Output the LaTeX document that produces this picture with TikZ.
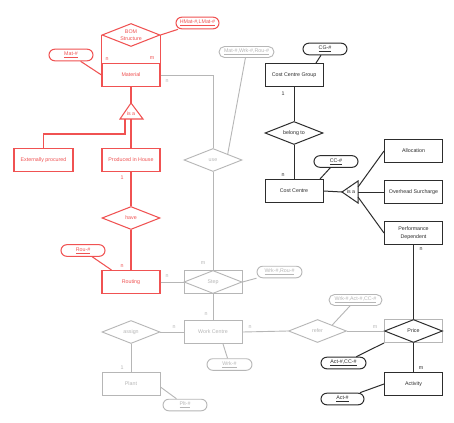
\documentclass[tikz,border=0pt]{standalone}
\usepackage{fontspec}
\setmainfont{Liberation Sans}
\usetikzlibrary{shapes.geometric}
\definecolor{er}{RGB}{240,82,82}
\definecolor{eg}{RGB}{182,182,182}
\definecolor{ek}{RGB}{45,45,45}
\tikzset{
  base/.style={font=\fontsize{5.3}{6.3}\selectfont, inner sep=0pt},
  ent/.style={base, draw, rectangle, minimum width=58pt, minimum height=23pt},
  rel/.style={base, draw, diamond, minimum width=58pt, minimum height=23pt},
  keyn/.style={base, draw, rounded corners=5.8pt, minimum width=44pt, minimum height=11.6pt},
  lbl/.style={base},
  cr/.style={draw=er, text=er, line width=1.05pt},
  cg/.style={draw=eg, text=eg, line width=0.9pt},
  ck/.style={draw=ek, text=ek, line width=1pt},
  lr/.style={draw=er, line width=1.05pt},
  lg/.style={draw=eg, line width=0.9pt},
  lk/.style={draw=ek, line width=1pt},
}
\begin{document}
\begin{tikzpicture}[x=1pt,y=-1pt]
\useasboundingbox[fill=white] (0,0) rectangle (454,422);

% ---------- red part ----------
\node[ent,cr] (mat) at (131,75) {Material};
\node[rel,cr] (bom) at (131,35) {};
\node[lbl,text=er,align=center] (bomt) at (131,35) {BOM\\[0.5pt]Structure};
\node[keyn,cr,minimum width=43pt] (hmat) at (197.5,23) {\underline{HMat-\#,LMat-\#}};
\node[keyn,cr] (matk) at (71,55) {\underline{Mat-\#}};
\node[ent,cr,minimum width=59pt] (ext) at (43.5,160) {Externally procured};
\node[ent,cr] (prod) at (131,160) {Produced in House};
\node[rel,cr] (have) at (131,218) {};
\node[lbl,text=er] (havet) at (131,218) {have};
\node[ent,cr] (rout) at (131,282) {Routing};
\node[keyn,cr] (rouk) at (83,250.5) {\underline{Rou-\#}};

\draw[lr] (bom.west) -- (bom.west |- mat.north);
\draw[lr] (bom.east) -- (bom.east |- mat.north);
\draw[lr] (bom.east) -- (hmat);
\draw[lr] (matk) -- (mat.west);
% is-a triangle
\coordinate (t1a) at (131,103);
\coordinate (t1l) at (120,119);
\coordinate (t1r) at (143,119);
\draw[lr, line join=miter] (t1a) -- (t1l) -- (t1r) -- cycle;
\node[lbl,text=er] (isa1) at (131,113.5) {is a};
\coordinate (t1p) at (125,119);
\coordinate (t1q) at (131,119);
\draw[lr] (mat.south) -- (t1a);
\draw[lr] (t1p) -- (125,134) -| (ext.north);
\draw[lr] (t1q) -- (prod.north);
\draw[lr] (prod.south) -- (have.north);
\draw[lr] (have.south) -- (rout.north);
\draw[lr] (rouk) -- ([xshift=10pt]rout.north west);
\node[lbl,text=er] at (107,59) {n};
\node[lbl,text=er] at (152,58.5) {m};
\node[lbl,text=er] at (122,178) {1};
\node[lbl,text=er] at (122,266) {n};

% ---------- gray part ----------
\node[rel,cg] (use) at (213,160) {};
\node[lbl,text=eg] (uset) at (213,160) {use};
\node[ent,cg] (stpb) at (213,282) {};
\node[rel,cg] (stp) at (213,282) {};
\node[lbl,text=eg] (stpt) at (213,282) {Step};
\node[ent,cg] (wc) at (213,332) {Work Centre};
\node[rel,cg] (assign) at (131,332) {};
\node[lbl,text=eg] (assignt) at (131,332) {assign};
\node[ent,cg] (plant) at (131,384) {Plant};
\node[rel,cg] (refer) at (317.5,331) {};
\node[lbl,text=eg] (refert) at (317.5,331) {refer};
\node[keyn,cg,minimum width=55pt,minimum height=11pt,rounded corners=5.5pt] (mwr) at (246.5,52) {\underline{Mat-\#,Wrk-\#,Rou-\#}};
\node[keyn,cg,minimum width=45pt] (wr) at (279.5,272) {\underline{Wrk-\#,Rou-\#}};
\node[keyn,cg,minimum width=45pt] (wk) at (229.5,364.5) {\underline{Wrk-\#}};
\node[keyn,cg] (pk) at (185,405) {\underline{Plt-\#}};
\node[keyn,cg,minimum width=53pt,minimum height=11pt,rounded corners=5.5pt] (wac) at (355.5,300) {\underline{Wrk-\#,Act-\#,CC-\#}};

\draw[lg] (mat.east) -| (use.north);
\draw[lg] (mwr) -- (use.north east);
\draw[lg] (use.south) -- (stpb.north);
\draw[lg] (rout.east) -- (stpb.west);
\draw[lg] (stp.east) -- (wr);
\draw[lg] (stpb.south) -- (wc.north);
\draw[lg] (assign.east) -- (wc.west);
\draw[lg] (assign.south) -- (plant.north);
\draw[lg] (pk) -- ([yshift=-3pt]plant.east);
\draw[lg] (wk) -- ([xshift=10pt]wc.south);
\draw[lg] (wc.east) -- (refer.west);
\draw[lg] (wac) -- (refer.north east);
\node[lbl,text=eg] at (167,81) {n};
\node[lbl,text=eg] at (167,276.5) {n};
\node[lbl,text=eg] at (203,263) {m};
\node[lbl,text=eg] at (206,314.5) {n};
\node[lbl,text=eg] at (174,327) {n};
\node[lbl,text=eg] at (122,368) {1};
\node[lbl,text=eg] at (250,327) {n};
\node[lbl,text=eg] at (375,327) {m};

% ---------- black part ----------
\node[ent,ck] (ccg) at (294,75) {Cost Centre Group};
\node[keyn,ck] (cgk) at (325,49) {\underline{CG-\#}};
\node[rel,ck] (belong) at (294,133) {};
\node[lbl,text=ek] (belongt) at (294,133) {belong to};
\node[ent,ck] (cc) at (294,191) {Cost Centre};
\node[keyn,ck] (cck) at (336,161.5) {\underline{CC-\#}};
\node[ent,ck] (alloc) at (413.5,151) {Allocation};
\node[ent,ck] (ovh) at (413.5,192) {Overhead Surcharge};
\node[ent,ck,align=center] (perf) at (413.5,233) {Performance\\[1pt]Dependent};
\node[ent,cg] (priceb) at (413.5,331) {};
\node[rel,ck] (price) at (413.5,331) {};
\node[lbl,text=ek] (pricet) at (413.5,331) {Price};
\node[ent,ck] (act) at (413.5,384) {Activity};
\node[keyn,ck,minimum width=45pt] (acck) at (343.5,363) {\underline{Act-\#,CC-\#}};
\node[keyn,ck,minimum width=43pt] (ak) at (342.5,399) {\underline{Act-\#}};

\draw[lk] (cgk) -- ([xshift=22pt]ccg.north);
\draw[lk] (ccg.south) -- (belong.north);
\draw[lk] (belong.south) -- (cc.north);
\draw[lk] (cck) -- ([xshift=26pt]cc.north);
\coordinate (t2a) at (342,192);
\coordinate (t2t) at (358,181);
\coordinate (t2b) at (358,203);
\draw[lk, line join=miter] (t2a) -- (t2t) -- (t2b) -- cycle;
\node[lbl,text=ek] (isa2) at (351,192) {is a};
\draw[lk] (cc.east) -- (t2a);
\coordinate (t2p) at (358,187);
\coordinate (t2q) at (358,192);
\coordinate (t2r) at (358,197);
\draw[lk] (t2p) -- (alloc.west);
\draw[lk] (t2q) -- (ovh.west);
\draw[lk] (t2r) -- (perf.west);
\draw[lk] (perf.south) -- (priceb.north);
\draw[lk] (price.south) -- (act.north);
\draw[lk] (acck) -- (priceb.south west);
\draw[lk] (ak) -- (act.west);
\draw[lg] (refer.east) -- (priceb.west);
\node[lbl,text=ek] at (283,94) {1};
\node[lbl,text=ek] at (283,175) {n};
\node[lbl,text=ek] at (421,249) {n};
\node[lbl,text=ek] at (421,368) {m};
\end{tikzpicture}
\end{document}
